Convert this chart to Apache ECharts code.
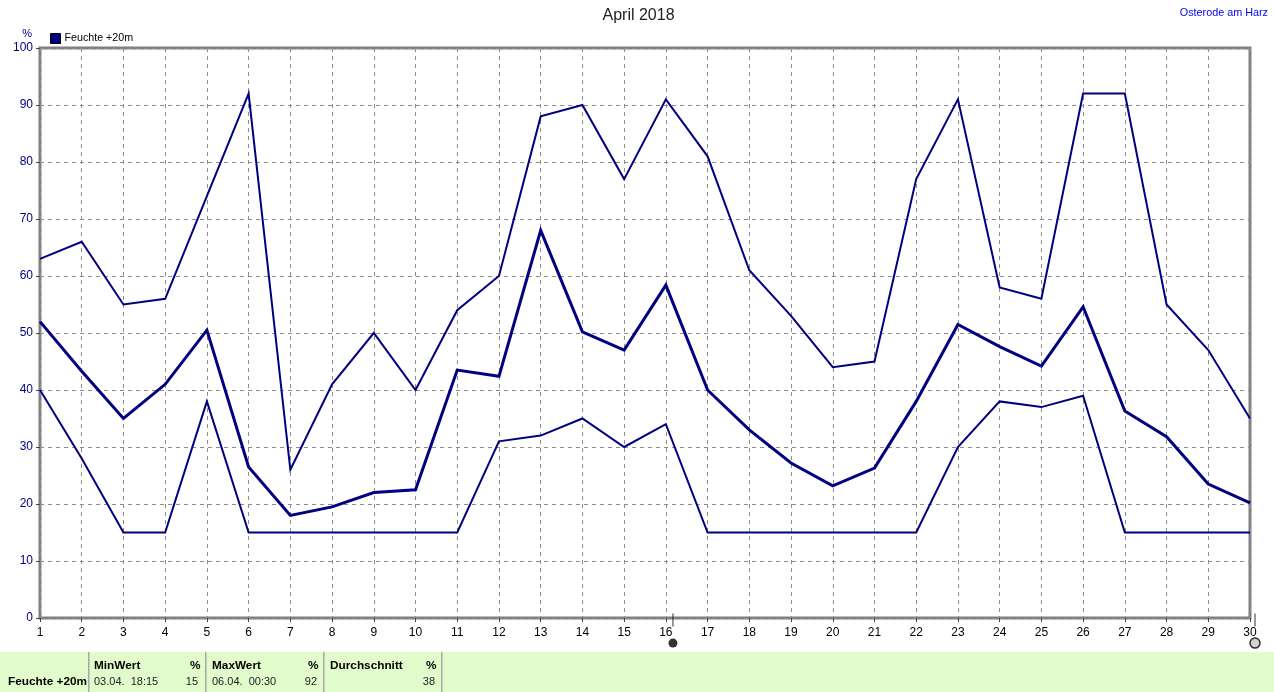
<!DOCTYPE html>
<html><head><meta charset="utf-8">
<style>html,body{margin:0;padding:0;background:#fff}#c{width:1274px;height:692px}</style>
<script src="https://cdn.jsdelivr.net/npm/echarts@6/dist/echarts.min.js"></script></head>
<body><div id="c"></div>
<script>
const days = [1,2,3,4,5,6,7,8,9,10,11,12,13,14,15,16,17,18,19,20,21,22,23,24,25,26,27,28,29,30];
const maxValues = [63,66,55,56,74,92,26,41,50,40,54,60,88,90,77,91,81,61,53,44,45,77,91,58,56,92,92,55,47,35];
const avgValues = [52,43.3,35,41,50.5,26.5,18,19.5,22,22.5,43.5,42.4,68,50.2,47,58.4,40,33,27.2,23.2,26.3,38,51.5,47.6,44.2,54.6,36.3,31.8,23.5,20.2];
const minValues = [40,28,15,15,38,15,15,15,15,15,15,31,32,35,30,34,15,15,15,15,15,15,30,38,37,39,15,15,15,15];
const seriesName = 'Feuchte +20m';
const cursorDays = [16.17, 30.12];
const navy = '#000080', gray = '#808080';
const font = '"Liberation Sans", Arial, sans-serif';
const pairs = v => v.map((y, i) => [days[i], y]);
const line = (v, w) => ({
  name: seriesName, type: 'line', data: pairs(v), showSymbol: false, symbol: 'none', animation: false,
  lineStyle: { color: navy, width: w, join: 'miter' }, itemStyle: { color: navy }, z: 5, clip: false
});
const txt = (x, y, s, o) => ({ type: 'text', x, y, silent: true, style: Object.assign({
  text: s, fill: '#222', font: '11px ' + font, textVerticalAlign: 'top' }, o || {}) });
const bold = { font: 'bold 11.8px ' + font, fill: '#000' };
const divider = x => ({ type: 'rect', shape: { x, y: 652, width: 1.5, height: 40 }, style: { fill: '#a8a8a8' }, silent: true });
const chart = echarts.init(document.getElementById('c'), null, { renderer: 'canvas' });
chart.setOption({
  animation: false,
  backgroundColor: '#fff',
  title: [
    { text: 'April 2018', left: 638.5, top: 8, padding: 0, textAlign: 'center', textStyle: { fontFamily: font, fontSize: 16, fontWeight: 'normal', color: '#222' } },
    { text: 'Osterode am Harz', right: 6, top: 8, padding: 0, textStyle: { fontFamily: font, fontSize: 10.8, fontWeight: 'normal', color: '#0000ff' } }
  ],
  legend: { left: 50, top: 33, itemWidth: 10, itemHeight: 10, icon: 'rect', padding: 0, itemGap: 4,
    data: [{ name: seriesName, itemStyle: { color: navy, borderColor: '#000', borderWidth: 1 } }],
    textStyle: { fontFamily: font, fontSize: 10.7, color: '#000', padding: [1,0,0,-1] } },
  grid: { left: 40, right: 24, top: 48, bottom: 74, show: true, borderColor: gray, borderWidth: 3, backgroundColor: '#fff' },
  xAxis: { type: 'value', min: 1, max: 30, interval: 1,
    axisLine: { show: false },
    axisTick: { show: true, length: 4, lineStyle: { color: '#444' } },
    axisLabel: { color: '#000', fontFamily: font, fontSize: 12, margin: 9, showMinLabel: true, showMaxLabel: true },
    splitLine: { show: true, lineStyle: { type: [4, 4], color: '#8c8c8c', width: 1 } } },
  yAxis: { type: 'value', min: 0, max: 100, interval: 10, name: '%', nameLocation: 'end', nameGap: 9,
    nameTextStyle: { color: navy, fontFamily: font, fontSize: 11, align: 'right', padding: [0, 8, 0, 0] },
    axisLine: { show: false },
    axisTick: { show: true, length: 4, lineStyle: { color: '#444' } },
    axisLabel: { color: navy, fontFamily: font, fontSize: 12, margin: 7, padding: [3, 0, 0, 0] },
    splitLine: { show: true, lineStyle: { type: [4, 4], color: '#8c8c8c', width: 1 } } },
  series: [
    line(maxValues, 2), line(minValues, 2), line(avgValues, 3),
    { type: 'scatter', silent: true, clip: false, symbol: 'rect', symbolSize: [1, 13], z: 6, animation: false,
      itemStyle: { color: '#000' }, data: cursorDays.map(d => [d, -0.35]) },
    { type: 'scatter', silent: true, clip: false, symbol: 'circle', symbolSize: 9, z: 6, animation: false,
      itemStyle: { color: '#000' }, data: [[cursorDays[0], -4.4]] },
    { type: 'scatter', silent: true, clip: false, symbol: 'circle', symbolSize: 10, z: 6, animation: false,
      itemStyle: { color: '#c8c8c8', borderColor: '#000', borderWidth: 1.5 }, data: [[cursorDays[1], -4.4]] }
  ],
  graphic: { elements: [
    { type: 'rect', shape: { x: 0, y: 652, width: 1274, height: 40 }, style: { fill: '#e2fbcb' }, silent: true, z: -1 },
    divider(88), divider(205), divider(323), divider(441),
    txt(8, 676, seriesName, bold),
    txt(94, 660, 'MinWert', bold), txt(190, 660, '%', bold),
    txt(94, 676, '03.04.  18:15'), txt(198, 676, '15', { textAlign: 'right' }),
    txt(212, 660, 'MaxWert', bold), txt(308, 660, '%', bold),
    txt(212, 676, '06.04.  00:30'), txt(317, 676, '92', { textAlign: 'right' }),
    txt(330, 660, 'Durchschnitt', bold), txt(426, 660, '%', bold),
    txt(435, 676, '38', { textAlign: 'right' })
  ] }
});
</script></body></html>
